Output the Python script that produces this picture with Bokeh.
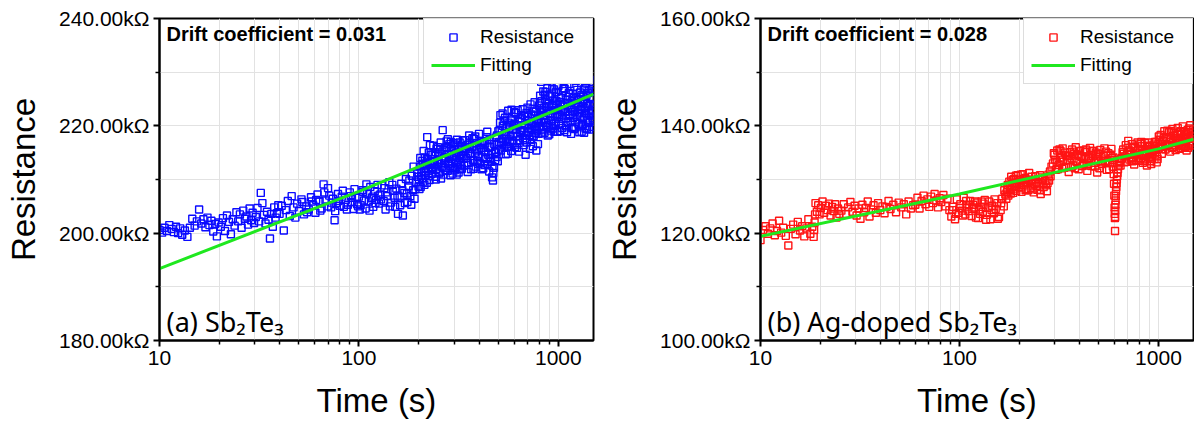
from bokeh.plotting import figure
from bokeh.layouts import row
from bokeh.models import (FixedTicker, PrintfTickFormatter, Label, ColumnDataSource)
from bokeh.embed import file_html
from bokeh.resources import INLINE

# ---------------- data (time s, resistance kOhm) ----------------
a_early = [(10.0,200.6),(10.3,200.1),(10.6,201.0),(10.9,200.4),(11.2,201.5),(11.5,200.8),(11.8,200.2),(12.1,201.2),
           (12.4,200.0),(12.7,200.9),(13.0,199.7),(13.4,200.5),(13.8,199.3),(14.2,201.0),(14.6,202.7),(15.0,201.4),
           (15.4,202.2),(15.8,204.4),(16.2,201.8),(16.6,202.6),(17.0,201.1),(17.4,202.9),(17.8,201.5),(18.2,202.3),
           (18.6,200.3),(19.0,201.7),(19.4,199.4),(19.8,202.0),(20.3,201.2),(20.8,202.8),(21.3,200.4),(21.8,203.3),
           (22.3,202.1),(22.8,199.8),(23.3,202.6),(23.8,201.4),(24.3,203.9),(24.8,202.2),(25.3,203.5),(25.8,201.0),
           (26.3,204.2),(26.8,202.7),(27.3,203.1),(27.8,201.6),(28.3,204.6),(28.8,202.4),(29.3,203.8),(29.8,201.9),
           (30.4,203.0),(31.0,204.7),(31.6,202.2),(32.2,207.5),(32.8,205.6),(33.4,203.4),(34.0,201.8),(34.6,204.0),
           (35.2,202.5),(35.8,199.0),(36.4,203.6),(37.0,201.2),(37.6,204.8),(38.2,202.9),(38.8,203.7),(39.4,205.2)]
a_mid = [(40,203.6),(41,205.1),(42,200.5),(43,204.3),(44,206.0),(45,203.2),(46,206.9),(47,204.8),(48,202.9),(49,205.5),
         (50,204.1),(51.5,206.3),(53,203.5),(54.5,205.0),(56,204.4),(57.5,206.7),(59,205.2),(60.5,203.8),(62,207.2),
         (63.5,205.9),(65,204.6),(66.5,209.1),(68,206.1),(69.5,205.0),(71,207.0),(72.5,204.8),(74,206.4),(75.5,202.4),
         (77,205.6),(78.5,207.3),(80,205.1),(82,206.8),(84,204.9),(86,206.2),(88,205.3),(90,207.6),(92,205.8),(94,204.5),
         (96,206.6),(98,205.4),(52,205.8),(55,203.9),(58,205.9),(61,206.2),(64,204.2),(67,207.6),(70,208.4),(73,205.7),
         (76,204.1),(79,206.0),(83,207.9),(87,204.4),(91,206.9),(95,208.2),(99,205.0)]
a_100 = [(100,206.8),(102,205.2),(104,208.0),(106,206.1),(108,204.6),(110,207.4),(112,205.9),(114,208.6),(116,206.5),
         (118,204.9),(120,207.8),(122,206.2),(124,209.0),(126,205.5),(128,207.2),(130,208.9),(133,206.0),(136,204.4),
         (139,207.6),(142,209.5),(145,205.7),(148,207.9),(151,206.6),(154,208.3),(157,203.6),(160,206.8),(163,209.2),
         (166,203.3),(169,207.5),(172,210.1),(175,205.8),(178,208.8),(181,206.9),(184,210.7),(187,208.0),(190,206.4),
         (193,209.6),(196,211.2),(199,208.7),(101,204.4),(105,207.7),(109,209.1),(113,204.2),(117,206.8),(121,205.6),
         (125,207.0),(129,206.3),(134,208.4),(138,206.9),(143,205.0),(147,209.0),(152,204.9),(156,207.0),(161,205.2),
         (165,208.0),(170,205.6),(174,207.4),(179,209.8),(183,205.3),(188,212.4),(192,208.2),(197,210.5)]
a_200 = [(200,210.0),(202,212.4),(204,208.6),(206,211.3),(208,213.5),(210,209.6),(212,212.0),(214,214.1),(216,210.8),
         (218,213.2),(220,217.9),(222,211.6),(224,215.0),(226,209.9),(228,212.8),(230,214.6),(233,211.9),(236,216.3),
         (239,213.4),(242,210.5),(245,215.7),(248,212.9),(251,214.8),(254,211.3),(257,216.9),(260,213.7),(263,219.2),
         (266,212.2),(269,215.5),(272,214.0),(275,217.1),(278,211.6),(281,214.7),(284,216.6),(287,212.5),(290,215.3),
         (294,213.2),(298,216.8),(302,211.7),(306,214.9),(310,217.4),(314,212.8),(318,215.6),(322,213.9),(326,216.2),
         (330,214.4),(201,208.2),(205,210.7),(209,212.9),(213,209.0),(217,211.5),(221,213.8),(225,210.6),(229,212.2),
         (234,214.6),(238,212.7),(243,210.0),(247,213.6),(252,211.1),(256,215.6),(261,212.4),(265,210.9),(270,213.0),
         (274,216.0),(279,217.5),(283,213.4),(288,210.8),(293,214.2),(297,212.1),(301,215.7),(305,213.1),(309,210.9),
         (313,216.1),(317,214.7),(321,211.9),(325,212.8),(329,215.8),
         (203,214.0),(207,210.2),(211,215.3),(215,212.6),(219,209.4),(223,213.1),(227,216.4),(231,211.0),(235,213.3),
         (240,215.1),(244,212.0),(249,216.0),(253,213.0),(258,210.2),(262,215.2),(267,214.0),(271,211.8),(276,215.9),
         (280,212.9),(285,214.1),(289,217.0),(295,211.1),(299,214.4),(304,216.5),(308,212.3),(312,215.0),(316,211.3),
         (320,216.9),(324,214.6),(328,212.0)]
a_330 = [(333,215.2),(337,212.6),(341,217.3),(345,214.0),(349,216.4),(353,213.1),(357,218.2),(361,214.8),(365,211.9),
         (369,216.0),(373,213.6),(377,217.6),(381,215.0),(385,212.4),(390,216.8),(395,214.3),(400,218.5),(405,213.0),
         (410,215.9),(415,217.2),(420,212.1),(425,215.4),(430,216.7),(435,213.8),(440,218.9),(445,214.6),(450,211.5),
         (455,216.1),(460,213.3),(465,210.4),(470,209.8),(475,212.2),(480,215.1),(485,217.8),(490,214.2),(495,216.5),
         (500,219.0),(335,213.9),(343,215.6),(351,211.4),(359,216.4),(367,214.4),(375,212.0),(383,218.0),(392,213.4),
         (402,215.7),(412,211.9),(422,217.0),(432,215.1),(442,212.9),(452,217.4),(462,214.8),(472,211.2),(482,213.6),
         (492,218.2),(332,217.3),(339,215.8),(347,213.0),(355,216.7),(363,214.9),(371,217.7),(379,213.5),(388,215.4),
         (397,212.9),(407,216.4),(417,214.1),(427,212.7),(437,217.9),(447,216.0),(457,214.0),(467,212.5),(477,216.6),
         (487,215.0),(497,213.4)]
a_500 = [(505,217.0),(510,220.6),(515,215.4),(520,219.1),(525,222.3),(530,216.5),(535,218.4),(540,221.5),(545,214.7),
         (550,219.8),(555,217.6),(560,222.8),(565,216.1),(570,220.2),(575,218.0),(580,215.3),(585,221.0),(590,219.4),
         (595,216.8),(600,222.6),(610,218.6),(620,215.9),(630,220.9),(640,217.3),(650,222.0),(660,219.6),(670,216.4),
         (680,221.8),(690,218.2),(700,223.4),(710,219.9),(720,215.7),(730,222.1),(740,217.9),(750,220.5),(760,224.4),
         (770,218.7),(780,221.3),(790,216.6),(800,223.8),(507,219.2),(517,216.9),(527,220.0),(537,215.9),(547,218.3),
         (557,214.8),(567,219.5),(577,221.2),(587,217.2),(597,220.1),(605,216.0),(615,219.3),(625,222.9),(635,215.2),
         (645,218.9),(655,221.4),(665,217.7),(675,219.0),(685,214.6),(695,216.9),(705,221.7),(715,218.3),(725,224.0),
         (735,220.4),(745,216.2),(755,222.7),(765,219.7),(775,215.4),(785,221.0),(795,218.5),
         (502,215.6),(512,222.0),(522,217.6),(532,220.9),(542,218.5),(552,216.1),(562,220.6),(572,217.0),(582,223.0),
         (592,218.1),(602,220.4),(612,222.4),(622,218.0),(632,216.8),(642,221.2),(652,219.2),(662,223.1),(672,220.1),
         (682,217.3),(692,222.4),(702,218.8),(712,220.9),(722,217.4),(732,219.4),(742,223.2),(752,218.1),(762,221.9),
         (772,222.6),(782,219.1),(792,220.8)]
a_800 = [(805,221.8),(810,225.6),(815,219.3),(820,228.2),(825,223.0),(830,218.6),(840,226.4),(850,221.2),(860,224.9),
         (870,219.8),(880,227.0),(890,222.4),(900,218.4),(910,225.5),(920,221.0),(930,223.7),(940,219.5),(950,226.8),
         (960,222.9),(970,220.4),(980,224.6),(990,218.9),(1000,227.4),(1015,222.0),(1030,225.2),(1045,219.6),
         (1060,223.6),(1075,226.9),(1090,221.4),(1105,218.8),(1120,224.3),(1135,227.8),(1150,220.9),(1165,223.2),
         (1180,225.9),(1195,219.4),(1210,222.6),(1225,228.4),(1240,221.7),(1255,224.8),(1270,219.9),(1285,226.2),
         (1300,223.1),(1315,220.2),(1330,225.4),(1345,218.7),(1360,227.1),(1375,222.3),(1390,224.0),(1405,220.6),
         (1420,226.6),(1435,228.6),(1450,221.9),(1465,225.0),(1480,219.8),(1495,223.8),
         (808,224.2),(818,220.8),(828,222.7),(835,219.9),(845,223.4),(855,225.8),(865,220.5),(875,222.8),(885,218.2),
         (895,224.1),(905,222.2),(915,219.1),(925,226.0),(935,221.7),(945,223.9),(955,218.9),(965,224.7),(975,226.3),
         (985,221.6),(995,223.0),(1008,220.3),(1022,224.4),(1038,221.3),(1052,226.5),(1068,219.2),(1082,222.6),
         (1098,224.9),(1112,220.7),(1128,226.1),(1142,222.1),(1158,218.5),(1172,224.6),(1188,221.5),(1202,227.3),
         (1218,219.7),(1232,223.5),(1248,225.1),(1262,220.4),(1278,222.9),(1292,224.4),(1308,218.9),(1322,221.2),
         (1338,226.8),(1352,223.3),(1368,219.5),(1382,225.6),(1398,221.1),(1412,223.7),(1428,219.3),(1442,224.1),
         (1458,222.5),(1472,226.9),(1488,220.9),
         (802,219.8),(812,222.6),(822,224.6),(832,220.6),(842,222.0),(852,218.7),(862,226.3),(872,223.6),(882,220.1),
         (892,225.6),(902,223.7),(912,221.9),(922,219.6),(932,226.9),(942,224.7),(952,220.0),(962,221.9),(972,224.0),
         (982,227.5),(992,222.2),(1004,225.4),(1018,219.0),(1034,223.0),(1048,221.9),(1064,227.0),(1078,224.0),
         (1094,219.9),(1108,223.8),(1124,221.8),(1138,225.4),(1154,223.4),(1168,219.6),(1184,222.7),(1198,225.2),
         (1214,220.7),(1228,224.2),(1244,226.7),(1258,222.3),(1274,218.8),(1288,221.9),(1304,225.7),(1318,223.6),
         (1334,220.3),(1348,224.9),(1364,222.8),(1378,227.9),(1394,219.4),(1408,226.1),(1424,222.3),(1438,220.7),
         (1454,225.2),(1468,223.0),(1484,221.4),(1498,226.4)]

b_early = [(10.0,118.7),(10.3,120.6),(10.6,121.3),(10.9,119.9),(11.2,120.9),(11.5,121.8),(11.8,119.6),(12.1,120.4),
           (12.4,122.3),(12.7,120.1),(13.0,121.0),(13.4,119.5),(13.8,117.7),(14.2,120.8),(14.6,121.6),(15.0,119.8),
           (15.4,122.1),(15.8,120.5),(16.2,121.3),(16.6,119.4),(17.0,120.9),(17.4,122.6),(17.8,119.9),(18.2,121.2),
           (18.5,119.3),(18.6,120.6),(18.7,122.0),(18.8,123.5),
           (18.9,125.6),(19.2,124.0),(19.5,125.2),(19.8,123.5),(20.1,124.7),(20.5,125.9),(20.9,123.8),(21.3,125.1),
           (21.7,124.3),(22.1,125.5),(22.5,123.3),(22.9,124.9),(23.3,124.1),(23.7,125.4),(24.1,122.9),(24.5,124.6),
           (24.9,123.6)]
b_mid = [(25.5,124.2),(26.2,125.4),(26.9,123.6),(27.6,124.8),(28.3,125.8),(29.0,124.0),(29.7,125.1),(30.4,123.3),
         (31.1,124.6),(31.8,122.7),(32.5,125.3),(33.2,123.9),(33.9,124.7),(34.6,125.9),(35.3,123.1),(36.0,124.4),
         (37,125.2),(38,123.8),(39,125.6),(40,124.3),(41,125.0),(42,123.7),(43,124.9),(44,126.0),(45,124.5),
         (46.5,125.3),(48,123.9),(49.5,125.7),(51,124.8),(52.5,125.4),(54,123.5),(55.5,125.9),(57,124.6),(58.5,125.2),
         (60,125.3),(61.5,126.6),(63,124.6),(64.5,126.0),(66,127.0),(67.5,125.4),(69,126.3),(70.5,124.9),(72,126.8),
         (73.5,125.6),(75,127.3),(76.5,126.1),(78,124.8),(79.5,126.5),(81,125.8),(83,127.1),(85,125.0),(87,126.4),
         (89,124.3)]
b_100 = [(91,123.1),(93,124.9),(95,122.6),(97,126.3),(99,123.8),(101,125.4),(103,124.2),(105,126.6),(107,123.5),
         (109,125.0),(111,124.1),(113,126.0),(115,123.2),(117,125.3),(119,124.6),(121,122.9),(123,125.7),(125,124.4),
         (127,123.6),(129,125.9),(131,124.0),(134,126.2),(137,123.4),(140,124.8),(143,122.6),(146,125.1),(149,123.7),
         (152,124.5),(155,125.6),(158,123.0),(161,124.3),(164,126.4),(167,125.0),(170,127.2),
         (92,124.3),(96,123.6),(100,124.7),(104,123.3),(108,126.0),(112,125.3),(116,124.8),(120,125.9),(124,122.8),
         (128,124.9),(132,125.5),(136,122.5),(141,125.9),(145,124.3),(150,126.3),(156,122.7),(162,125.6),(168,128.0)]
b_200 = [(172,126.4),(174,128.3),(176,127.0),(178,129.6),(180,128.1),(182,130.5),(184,128.8),(186,127.5),(188,130.1),
         (190,129.3),(193,127.9),(196,130.8),(199,128.6),(202,129.9),(205,127.7),(208,131.0),(211,128.9),(214,130.3),
         (217,128.2),(220,129.5),(224,131.2),(228,128.4),(232,129.9),(236,127.6),(240,130.6),(244,128.8),(248,130.0),
         (252,129.1),(256,127.3),(260,130.4),(265,128.6),(270,129.7),(275,127.8),(280,130.9),(285,131.5),(290,132.4),
         (175,129.0),(181,127.4),(187,128.9),(192,130.7),(198,129.4),(204,128.5),(210,130.1),(216,129.6),(222,128.0),
         (230,130.5),(238,129.2),(246,128.1),(254,130.8),(262,129.4),(272,128.9),(282,129.8),
         (173,127.6),(179,128.6),(185,129.9),(191,128.3),(197,129.9),(203,130.9),(209,129.3),(215,128.0),(223,129.9),
         (233,128.3),(243,129.6),(253,128.0),(263,130.0),(277,129.3),(287,130.6)]
b_300 = [(295,133.0),(300,134.6),(305,131.8),(310,135.4),(315,132.7),(320,134.1),(325,133.3),(330,135.8),(336,132.2),
         (342,134.5),(348,133.6),(354,131.4),(360,135.1),(366,133.9),(372,132.6),(378,134.8),(384,136.0),(390,133.2),
         (397,131.9),(404,135.3),(411,134.2),(418,132.8),(425,134.0),(432,135.6),(439,131.6),(446,133.7),(453,135.9),
         (460,132.5),(468,134.3),(476,133.1),(484,135.0),(492,131.3),(500,133.8),(510,135.5),(520,132.9),(530,134.4),
         (540,133.5),(550,131.8),(560,134.9),(570,133.0),(580,135.7),(590,132.4),(594,134.1),
         (298,134.9),(308,133.2),(318,135.6),(328,132.1),(339,135.0),(351,134.3),(363,132.3),(375,135.2),(387,133.5),
         (400,134.4),(414,132.5),(428,135.1),(442,134.3),(457,133.4),(472,135.3),(488,134.5),(505,132.1),(525,133.2),
         (545,135.2),(565,131.9),(585,134.0),
         (302,133.7),(312,131.9),(322,135.3),(332,133.7),(344,132.3),(356,134.4),(368,135.6),(380,132.1),(393,134.6),
         (406,133.1),(420,135.4),(435,132.6),(450,134.0),(465,135.3),(480,132.4),(496,134.8),(515,133.5),(535,135.8),
         (555,133.2),(575,134.6),(592,133.6)]
b_dip = [(596,131.0),(598,129.2),(600,127.0),(602,124.8),(603,123.6),(604,122.8),(605,120.4),(606,123.0),(607,124.2),
         (608,125.3),(609,126.1),(610,126.9),(612,127.8),(614,128.6),(616,129.3),(618,130.0),(620,130.6),(623,131.2),
         (626,131.9),(630,132.5),(635,133.0),(640,133.4),(645,132.6),(650,133.8)]
b_700 = [(655,134.0),(665,135.6),(675,133.2),(685,136.4),(695,134.8),(705,137.2),(715,133.7),(725,135.2),(735,136.6),
         (745,134.1),(755,132.8),(765,135.9),(775,134.5),(785,136.9),(795,133.5),(805,135.4),(815,134.0),(825,136.2),
         (835,133.1),(845,135.0),(855,136.8),(865,134.4),(875,132.6),(885,135.7),(895,134.2),(905,136.1),(915,133.4),
         (925,135.3),(935,134.7),(945,136.5),(955,133.8),(965,135.1),(975,137.0),(985,134.3),(995,135.8),
         (660,135.1),(680,134.3),(700,135.9),(720,134.6),(740,133.4),(760,134.6),(780,135.0),(800,133.9),(820,137.0),
         (840,134.6),(860,133.7),(880,136.3),(900,135.1),(920,132.9),(940,135.4),(960,137.0),(980,133.2),(1000,136.6),
         (670,134.8),(690,133.3),(710,135.4),(730,133.9),(750,136.1),(770,133.6),(790,135.6),(810,136.6),(830,134.7),
         (850,133.4),(870,135.3),(890,136.9),(910,134.9),(930,133.9),(950,136.2),(970,135.5),(990,133.8)]
b_1000 = [(1010,136.0),(1025,138.3),(1040,134.8),(1055,137.2),(1070,139.0),(1085,135.6),(1100,137.9),(1115,136.4),
          (1130,138.8),(1145,135.2),(1160,137.5),(1175,139.4),(1190,136.1),(1205,138.1),(1220,135.5),(1235,137.7),
          (1250,139.6),(1265,136.7),(1280,138.5),(1295,135.9),(1310,137.3),(1325,139.9),(1340,136.3),(1355,138.2),
          (1370,137.0),(1385,135.4),(1400,139.2),(1415,137.8),(1430,136.5),(1445,140.1),(1460,138.6),(1475,136.9),
          (1490,139.3),(1500,137.6),
          (1018,137.4),(1048,136.1),(1078,136.6),(1108,139.1),(1138,137.0),(1168,135.9),(1198,138.7),(1228,136.9),
          (1258,137.4),(1288,139.0),(1318,136.2),(1348,138.9),(1378,138.5),(1408,135.9),(1438,137.6),(1468,138.0),
          (1495,136.4),
          (1004,138.0),(1033,135.7),(1063,137.8),(1093,136.2),(1123,137.5),(1153,139.0),(1183,137.2),(1213,136.4),
          (1243,138.4),(1273,135.7),(1303,138.9),(1333,137.9),(1363,136.0),(1393,137.9),(1423,139.5),(1453,136.3),
          (1483,138.2)]

fit_t = [10, 100, 1000, 1500]
fit_a = [193.4, 207.8, 223.1, 225.9]
fit_b = [119.4, 127.3, 135.7, 137.5]

y_ticks_a = [180, 200, 220, 240]
y_minor_a = [190, 210, 230]
y_ticks_b = [100, 120, 140, 160]
y_minor_b = [110, 130, 150]
x_ticks = [10, 100, 1000]
x_minor = [20, 30, 40, 50, 60, 70, 80, 90, 200, 300, 400, 500, 600, 700, 800, 900]

AR = "Liberation Sans"


def build(segments, fit_r, color, yr, yt, ym, drift, panel, width, mbr):
    pts = [p for seg in segments for p in seg]
    src = ColumnDataSource(dict(t=[p[0] for p in pts], r=[p[1] for p in pts]))
    p = figure(width=width, height=426, x_axis_type="log", x_range=(10, 1500), y_range=yr,
               output_backend="svg", toolbar_location=None,
               min_border_left=159, min_border_right=mbr, min_border_top=18, min_border_bottom=86)
    p.background_fill_color = "white"
    p.border_fill_color = "white"
    p.outline_line_color = "black"
    p.outline_line_width = 2

    p.scatter("t", "r", source=src, marker="square", size=7, fill_color=None,
              line_color=color, line_width=1.4, legend_label="Resistance")
    p.line(fit_t, fit_r, line_color="#1fe81f", line_width=3, legend_label="Fitting")

    p.xaxis.ticker = FixedTicker(ticks=x_ticks, minor_ticks=x_minor)
    p.yaxis.ticker = FixedTicker(ticks=yt, minor_ticks=ym)
    p.xaxis.formatter = PrintfTickFormatter(format="%d")
    p.yaxis.formatter = PrintfTickFormatter(format="%.2fkΩ")
    for ax in (p.xaxis, p.yaxis):
        ax.axis_line_color = "black"
        ax.axis_line_width = 2
        ax.major_tick_line_color = "black"
        ax.minor_tick_line_color = "black"
        ax.major_tick_line_width = 2
        ax.minor_tick_line_width = 1.5
        ax.major_tick_in = 0
        ax.major_tick_out = 6
        ax.minor_tick_in = 0
        ax.minor_tick_out = 4
        ax.major_label_text_font = AR
        ax.major_label_text_font_size = "21px"
        ax.major_label_text_color = "black"
        ax.axis_label_text_font = AR
        ax.axis_label_text_font_size = "33px"
        ax.axis_label_text_font_style = "normal"
        ax.axis_label_text_color = "black"
    p.xaxis.major_label_standoff = 4
    p.yaxis.major_label_standoff = 4
    p.xaxis.axis_label = "Time (s)"
    p.yaxis.axis_label = "Resistance"
    p.xaxis.axis_label_standoff = 14
    p.yaxis.axis_label_standoff = 14

    for g in (p.xgrid, p.ygrid):
        g.grid_line_color = "#e2e2e2"
        g.grid_line_width = 1
        g.minor_grid_line_color = "#e2e2e2"
        g.minor_grid_line_width = 1

    lg = p.legend[0]
    lg.location = "top_right"
    lg.margin = 0
    lg.padding = 7
    lg.spacing = 6
    lg.glyph_width = 44
    lg.glyph_height = 18
    lg.label_height = 18
    lg.label_width = 105
    lg.label_standoff = 5
    lg.label_text_font = AR
    lg.label_text_font_size = "19px"
    lg.label_text_color = "black"
    lg.border_line_color = "#bbbbbb"
    lg.border_line_width = 1
    lg.background_fill_color = "white"
    lg.background_fill_alpha = 1

    span = yr[1] - yr[0]
    p.add_layout(Label(x=10.85, y=yr[1] - span * 0.048, text=drift, text_font=AR,
                       text_font_style="bold", text_font_size="20px", text_baseline="middle",
                       text_color="black"))
    p.add_layout(Label(x=10.85, y=yr[0] + span * 0.058, text=panel, text_font="Noto Sans",
                       text_font_size="27px", text_baseline="middle", text_color="black"))
    return p


p1 = build([a_early, a_mid, a_100, a_200, a_330, a_500, a_800], fit_a, "#0a0aff", (180, 240),
           y_ticks_a, y_minor_a, "Drift coefficient = 0.031", "(a) Sb₂Te₃", 601, 8)
p2 = build([b_early, b_mid, b_100, b_200, b_300, b_dip, b_700, b_1000], fit_b, "#ff1414", (100, 160),
           y_ticks_b, y_minor_b, "Drift coefficient = 0.028", "(b) Ag-doped Sb₂Te₃", 593, 1)

layout = row(p1, p2)
open("out.html", "w").write(file_html(layout, INLINE))
